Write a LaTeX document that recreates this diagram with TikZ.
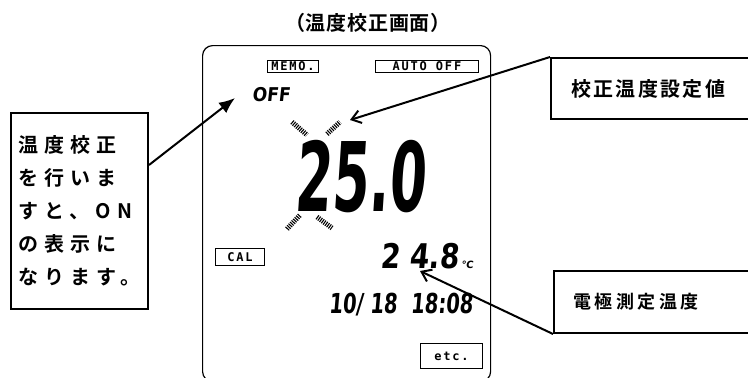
\documentclass[tikz,border=0pt]{standalone}
\usepackage{fontspec}
\usepackage{graphicx}
\usepackage{tikz}
\usetikzlibrary{arrows.meta,positioning,calc}
\newfontfamily\jpfont{Noto Sans CJK JP}[UprightFont={* Bold}]
\newfontfamily\lcdfont{DejaVu Sans}[FakeSlant=0.12]
\newfontfamily\lblfont{DejaVu Sans Mono}[LetterSpace=15]
% seven-segment style readout: x-squeeze, size, text
\newcommand{\lcd}[3]{{\fontsize{#2}{#2}\selectfont\lcdfont\bfseries\scalebox{#1}[1]{#3}}}
\tikzset{
  callout/.style={draw, line width=2pt, inner sep=0pt},
  tagbox/.style={draw, line width=0.9pt, inner sep=0pt, font=\lblfont\bfseries\fontsize{12}{12}\selectfont},
  pointer/.style={line width=2pt},
}

\begin{document}
\begin{tikzpicture}[x=1pt, y=-1pt]
        \useasboundingbox (0,0) rectangle (748,378);
        % title and meter screen
        \node[font=\jpfont\fontsize{20}{20}\selectfont\addfontfeature{LetterSpace=4}] (title) at (368,23) {（温度校正画面）};
        \node[draw, line width=1.2pt, rounded corners=10pt, anchor=north west, minimum width=288pt, minimum height=336pt] (screen) at (202,45) {};

        \node[tagbox, anchor=north west, minimum width=51pt, minimum height=12pt] (memo) at (267,60) {MEMO.};
        \node[tagbox, anchor=north west, minimum width=103pt, minimum height=12pt] (autooff) at (375,60) {AUTO OFF};
        \node[tagbox, anchor=north west, minimum width=49pt, minimum height=17pt] (cal) at (215,248) {CAL};
        \node[tagbox, anchor=north west, minimum width=62pt, minimum height=25pt] (etc) at (420,343) {etc.};

        \node[anchor=west, inner sep=0pt] (off) at (252,95) {\lcd{0.9}{19}{OFF}};
        \node[inner sep=0pt] (setval) at (360,177) {\lcd{0.55}{96}{25.0}};
        \node[inner sep=0pt, anchor=base west] (meas) at (380,268) {\lcd{0.82}{34}{2 4.8}};
        \node[inner sep=0pt, anchor=base west, xshift=2pt] (degc) at (meas.base east) {\lcdfont\bfseries\fontsize{10}{10}\selectfont ℃};
        \node[inner sep=0pt, anchor=base east] (clock) at (473,313) {\lcd{0.71}{27.5}{10/ 18~~18:08}};

        % blinking marks round the set value
        \foreach \xa/\ya/\xb/\yb in {292/122/307/135, 327/134/340/122, 287/229/300/215, 317/217/332/228}
          \draw[line width=5pt, dash pattern=on 1.1pt off 1.1pt] (\xa,\ya) -- (\xb,\yb);

        % explanation boxes
        \node[callout, anchor=north west, minimum width=137pt, minimum height=196pt, align=left,
              font=\jpfont\fontsize{20}{33}\selectfont\addfontfeature{LetterSpace=30}] (howto) at (10,112)
              {温度校正\\を行いま\\すと、ON\\の表示に\\なります。};
        \node[callout, anchor=north west, minimum width=210pt, minimum height=61pt, text width=170pt, inner xsep=20pt, align=left,
              font=\jpfont\fontsize{20}{20}\selectfont\addfontfeature{LetterSpace=12}] (setlbl) at (550,57) {校正温度設定値};
        \node[callout, anchor=north west, minimum width=210pt, minimum height=62pt, text width=172pt, inner xsep=19pt, align=left,
              font=\jpfont\fontsize{18}{18}\selectfont\addfontfeature{LetterSpace=20}] (measlbl) at (553,270) {電極測定温度};

        \coordinate (offpt) at (235,98);
        \coordinate (setpt) at (350,120);
        \coordinate (measpt) at (420,271);
        \draw[pointer, -{Latex[length=16pt,width=13pt]}] ([yshift=-53pt]howto.north east) -- (offpt);
        \draw[pointer, -{Straight Barb[length=9pt,width=13pt]}] (setlbl.north west) -- (setpt);
        \draw[pointer, -{Straight Barb[length=9pt,width=13pt]}] (measlbl.south west) -- (measpt);
\end{tikzpicture}
\end{document}
